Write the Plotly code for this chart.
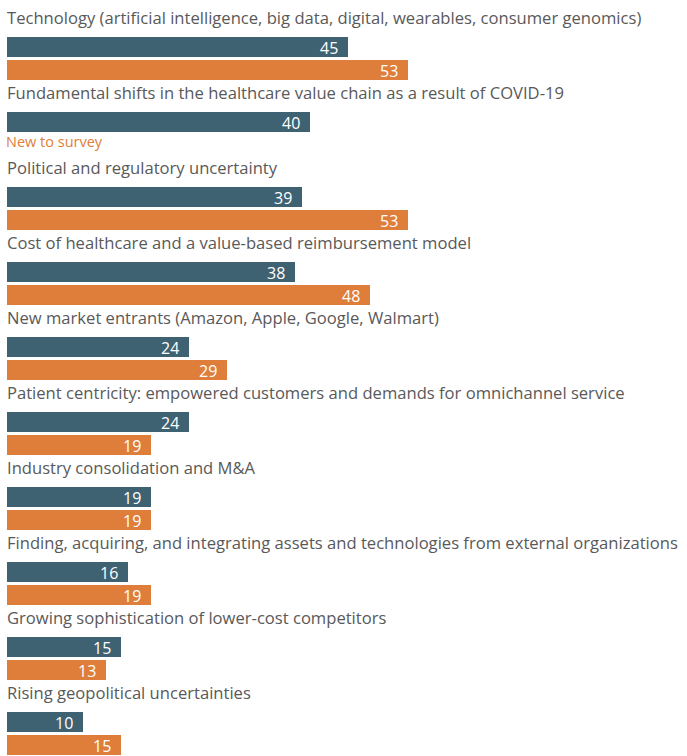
import plotly.graph_objects as go

# Issues ranked by share of respondents (%), current vs. prior survey
categories = [
    "Technology (artificial intelligence, big data, digital, wearables, consumer genomics)",
    "Fundamental shifts in the healthcare value chain as a result of COVID-19",
    "Political and regulatory uncertainty",
    "Cost of healthcare and a value-based reimbursement model",
    "New market entrants (Amazon, Apple, Google, Walmart)",
    "Patient centricity: empowered customers and demands for omnichannel service",
    "Industry consolidation and M&A",
    "Finding, acquiring, and integrating assets and technologies from external organizations",
    "Growing sophistication of lower-cost competitors",
    "Rising geopolitical uncertainties",
]
current_values = [45, 40, 39, 38, 24, 24, 19, 16, 15, 10]
prior_values = [53, None, 53, 48, 29, 19, 19, 19, 13, 15]

BLUE = "#3f6272"
ORANGE = "#de7e3a"
GRAY = "#595959"
FONT = "Open Sans"

# Each category gets one row unit: its title, then the two bars beneath it
ROW = 75.0
LABEL_OFF = 0.0
CUR_OFF = 29.0 / ROW
PRI_OFF = 52.0 / ROW
BAR_W = 20.0 / ROW

n = len(categories)
base = list(range(n))

fig = go.Figure()
series = [
    ("Current survey", current_values, CUR_OFF, BLUE),
    ("Prior survey", prior_values, PRI_OFF, ORANGE),
]
for name, vals, off, color in series:
    ys = [b + off for b in base]
    fig.add_trace(go.Bar(
        name=name,
        orientation="h",
        x=vals,
        y=ys,
        width=BAR_W,
        marker=dict(color=color, line=dict(width=0)),
        hoverinfo="skip",
    ))
    # value labels, right-aligned inside the end of each bar
    for v, yv in zip(vals, ys):
        if v is None:
            continue
        fig.add_annotation(
            x=v, y=yv, xref="x", yref="y",
            text=str(v), showarrow=False,
            xanchor="right", yanchor="middle", xshift=-8, yshift=-1,
            font=dict(size=16, color="white", family=FONT),
        )

# Category titles above each pair of bars
for b, cat in zip(base, categories):
    fig.add_annotation(
        x=0, y=b + LABEL_OFF, xref="x", yref="y",
        text=cat, showarrow=False,
        xanchor="left", yanchor="middle", xshift=-2, yshift=1,
        font=dict(size=16.6, color=GRAY, family=FONT),
    )

# Note for the item without a prior-survey value
for b, v in zip(base, prior_values):
    if v is None:
        fig.add_annotation(
            x=0, y=b + PRI_OFF - 0.04, xref="x", yref="y",
            text="New to survey", showarrow=False,
            xanchor="left", yanchor="middle", xshift=-3, yshift=1,
            font=dict(size=14.5, color=ORANGE, family=FONT),
        )

fig.update_layout(
    width=687, height=756,
    margin=dict(l=0, r=0, t=0, b=0),
    paper_bgcolor="white", plot_bgcolor="white",
    showlegend=False,
    barmode="overlay",
    bargap=0,
    xaxis=dict(range=[-0.98, 89.9], visible=False, fixedrange=True),
    yaxis=dict(range=[(756 - 18) / ROW, -18 / ROW], visible=False, fixedrange=True),
)

fig.write_html("out.html")
